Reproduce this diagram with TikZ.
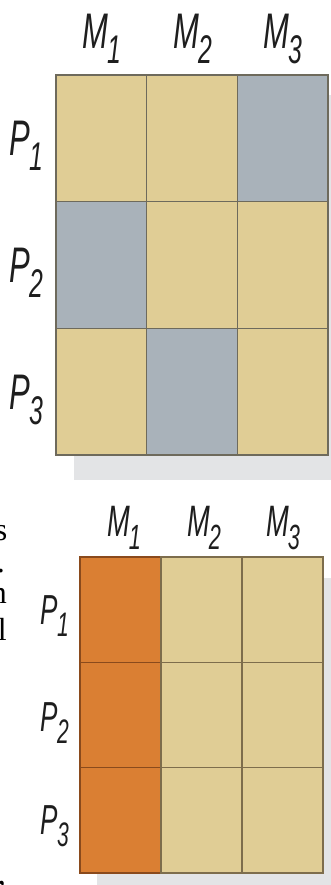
\documentclass[tikz,border=0pt]{standalone}
\usepackage{fontspec}
\setsansfont{Liberation Sans}
\setmainfont{Liberation Serif}
\usepackage{graphicx}
\definecolor{tancell}{HTML}{E0CD95}
\definecolor{greycell}{HTML}{A9B2BA}
\definecolor{orangecell}{HTML}{DA7F33}
\definecolor{gridline}{HTML}{6E6A5C}
\definecolor{gridlineb}{HTML}{7D6D4C}
\definecolor{orangeline}{HTML}{8A4A1C}
\definecolor{shadowgrey}{HTML}{E3E4E6}
\definecolor{labelink}{HTML}{1E1E1E}
\newcommand{\gridlabel}[4]{\scalebox{0.62}[1]{\fontsize{#1pt}{#1pt}\selectfont\sffamily\itshape #3\kern-0.03em\raisebox{-0.3em}{\fontsize{#2pt}{#2pt}\selectfont #4}}}
\tikzset{
  topcell/.style={draw=gridline, line width=1.5pt, minimum width=90.67pt, minimum height=126.67pt, inner sep=0pt, outer sep=0pt},
  botcell/.style={draw=gridlineb, line width=1.5pt, minimum width=81pt, minimum height=105.33pt, inner sep=0pt, outer sep=0pt},
  toplab/.style={text=labelink, inner sep=0pt, anchor=base},
  sidelab/.style={text=labelink, inner sep=0pt, anchor=base east},
  frag/.style={inner sep=0pt, anchor=base east, font=\fontsize{32pt}{32pt}\selectfont\rmfamily, text=black},
  shadowbox/.style={fill=shadowgrey, draw=none}
}
\begin{document}
\begin{tikzpicture}[x=1pt, y=-1pt]
\useasboundingbox (0,0) rectangle (331,885);
\clip (0,0) rectangle (331,885);
% shadows
\fill[shadowbox] (74,95) rectangle (331,480);
\fill[shadowbox] (97,578) rectangle (331,885);
% top grid
\foreach \r/\rc in {1/138.33, 2/265, 3/391.67}{
  \foreach \c/\cc in {1/101.33, 2/192, 3/282.67}{
    \node[topcell, fill=tancell] (t\r\c) at (\cc,\rc) {};
  }
}
\node[topcell, fill=greycell] (t13) at (282.67,138.33) {};
\node[topcell, fill=greycell] (t21) at (101.33,265) {};
\node[topcell, fill=greycell] (t32) at (192,391.67) {};
% top labels
\node[toplab] (tm1) at (102,49) {\gridlabel{50}{40}{M}{1}};
\node[toplab] (tm2) at (193,49) {\gridlabel{50}{40}{M}{2}};
\node[toplab] (tm3) at (283,49) {\gridlabel{50}{40}{M}{3}};
\node[sidelab] (tp1) at (43,156) {\gridlabel{50}{40}{P}{1}};
\node[sidelab] (tp2) at (43,282) {\gridlabel{50}{40}{P}{2}};
\node[sidelab] (tp3) at (43,409) {\gridlabel{50}{40}{P}{3}};
% bottom grid
\foreach \r/\rc in {1/609.67, 2/715, 3/820.33}{
  \node[botcell, fill=orangecell, draw=orangeline] (b\r1) at (120.5,\rc) {};
  \node[botcell, fill=tancell] (b\r2) at (201.5,\rc) {};
  \node[botcell, fill=tancell] (b\r3) at (282.5,\rc) {};
}
% bottom labels
\node[toplab] (bm1) at (124,536) {\gridlabel{44}{35}{M}{1}};
\node[toplab] (bm2) at (204,536) {\gridlabel{44}{35}{M}{2}};
\node[toplab] (bm3) at (283,536) {\gridlabel{44}{35}{M}{3}};
\node[sidelab] (bp1) at (69,624) {\gridlabel{42}{34}{P}{1}};
\node[sidelab] (bp2) at (69,731) {\gridlabel{42}{34}{P}{2}};
\node[sidelab] (bp3) at (69,834) {\gridlabel{42}{34}{P}{3}};
% clipped text fragments at the left edge
\node[frag] (f1) at (7.5,540) {s};
\node[frag] (f2) at (5,572) {.};
\node[frag] (f3) at (7,603) {n};
\node[frag] (f4) at (7,640) {l};
\node[frag] (f5) at (6,884) {,};
\end{tikzpicture}
\end{document}
